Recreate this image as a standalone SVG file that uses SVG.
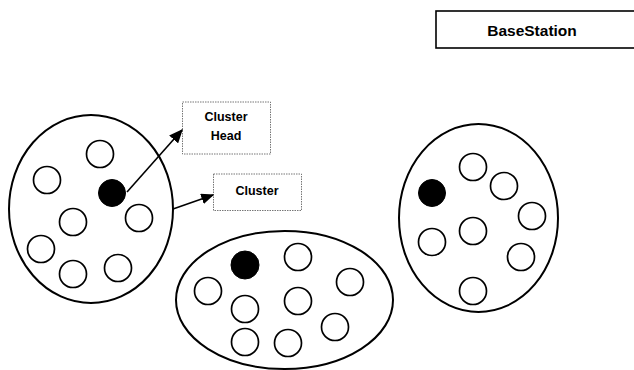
<svg xmlns="http://www.w3.org/2000/svg" width="634" height="370" viewBox="0 0 634 370">
<defs>
<style>
.cl{fill:none;stroke:#000;stroke-width:2}
.n{fill:#fff;stroke:#000;stroke-width:1.7}
.h{fill:#000;stroke:#000;stroke-width:1}
.lb{fill:#fff;stroke:#777;stroke-width:1;stroke-dasharray:1.5 1}
.t{font-family:"Liberation Sans",Arial,sans-serif;font-weight:bold;fill:#000;text-anchor:middle}
.c{stroke:#000;stroke-width:1.6;fill:none}
</style>
<marker id="ah" viewBox="0 0 10 10" refX="9" refY="5" markerWidth="13" markerHeight="11" markerUnits="userSpaceOnUse" orient="auto" preserveAspectRatio="none">
<path d="M0,0 L10,5 L0,10 z" fill="#000"/>
</marker>
<marker id="ah2" viewBox="0 0 10 10" refX="9" refY="5" markerWidth="14" markerHeight="12" markerUnits="userSpaceOnUse" orient="auto" preserveAspectRatio="none">
<path d="M0,0 L10,5 L0,10 z" fill="#000"/>
</marker>
</defs>
<rect width="634" height="370" fill="#fff"/>
<g id="basestation">
<rect x="436" y="11" width="210" height="37" fill="#fff" stroke="#000" stroke-width="1.6"/>
<text class="t" x="532" y="35.5" font-size="15.5">BaseStation</text>
</g>
<g id="cluster1">
<ellipse class="cl" cx="91" cy="209" rx="82" ry="94"/>
<circle class="n" cx="100" cy="154" r="13.5"/>
<circle class="n" cx="47" cy="180" r="13.5"/>
<circle class="h" cx="112" cy="193" r="13.5"/>
<circle class="n" cx="73" cy="222" r="13.5"/>
<circle class="n" cx="139" cy="218" r="13.5"/>
<circle class="n" cx="41" cy="249" r="13.5"/>
<circle class="n" cx="73" cy="274" r="13.5"/>
<circle class="n" cx="118" cy="268" r="13.5"/>
</g>
<g id="cluster2">
<ellipse class="cl" cx="284.5" cy="300" rx="108.5" ry="69"/>
<circle class="h" cx="245" cy="265" r="14"/>
<circle class="n" cx="298" cy="257" r="13.5"/>
<circle class="n" cx="208" cy="291" r="13.5"/>
<circle class="n" cx="245" cy="309" r="13.5"/>
<circle class="n" cx="298" cy="301" r="13.5"/>
<circle class="n" cx="350" cy="282" r="13.5"/>
<circle class="n" cx="335" cy="327" r="13.5"/>
<circle class="n" cx="245" cy="342" r="13.5"/>
<circle class="n" cx="288" cy="343" r="13.5"/>
</g>
<g id="cluster3">
<ellipse class="cl" cx="478.5" cy="218" rx="79.5" ry="94"/>
<circle class="n" cx="473" cy="167" r="13.5"/>
<circle class="h" cx="432" cy="193" r="13.5"/>
<circle class="n" cx="504" cy="186" r="13.5"/>
<circle class="n" cx="532" cy="216" r="13.5"/>
<circle class="n" cx="473" cy="231" r="13.5"/>
<circle class="n" cx="432" cy="242" r="13.5"/>
<circle class="n" cx="521" cy="257" r="13.5"/>
<circle class="n" cx="473" cy="291" r="13.5"/>
</g>
<g id="label-clusterhead">
<rect class="lb" x="182.5" y="102" width="88" height="52"/>
<text class="t" x="226" y="121" font-size="12.5">Cluster</text>
<text class="t" x="226" y="139.5" font-size="12.5">Head</text>
</g>
<g id="label-cluster">
<rect class="lb" x="213.5" y="174" width="88" height="36.5"/>
<text class="t" x="257" y="194.5" font-size="12.5">Cluster</text>
</g>
<g id="connectors">
<line class="c" x1="127" y1="192" x2="182" y2="130" marker-end="url(#ah2)"/>
<line class="c" x1="173" y1="209" x2="213" y2="195" marker-end="url(#ah)"/>
</g>
</svg>
